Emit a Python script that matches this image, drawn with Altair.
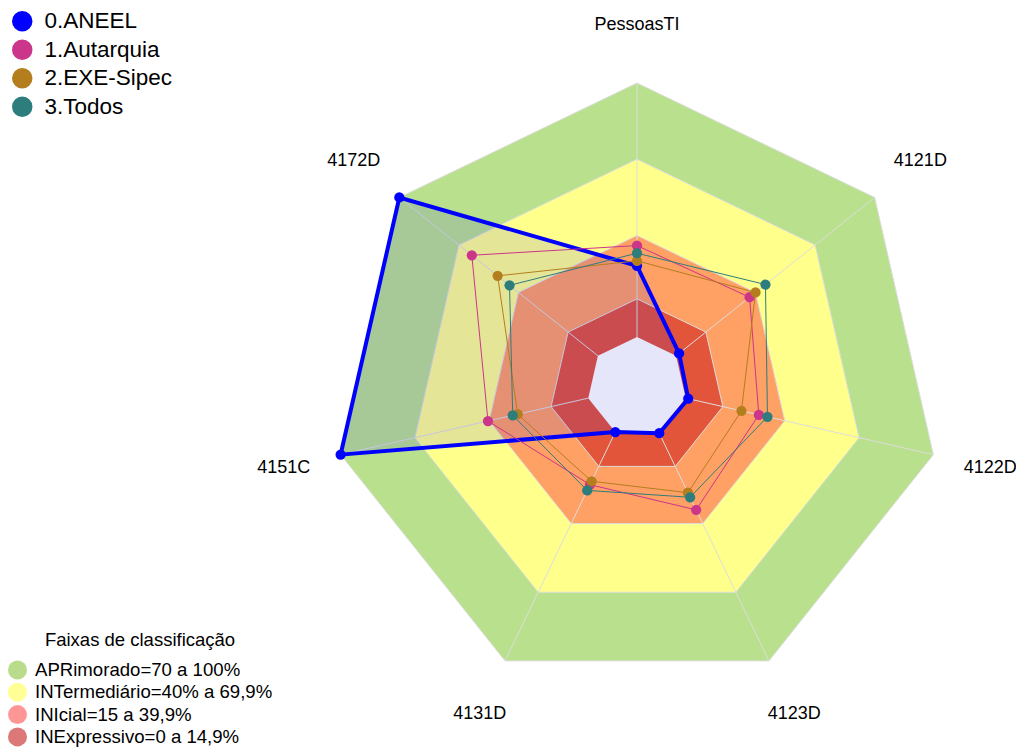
import altair as alt
import pandas as pd

# ---------------- data ----------------
categories = ["PessoasTI", "4121D", "4122D", "4123D", "4131D", "4151C", "4172D"]
series_names = ["0.ANEEL", "1.Autarquia", "2.EXE-Sipec", "3.Todos"]
aneel = [28, 1.5, 1, 0.5, 0, 100, 100]
autarquia = [36, 37, 29.5, 34, 23, 40.5, 63.5]
exe_sipec = [30, 40, 22.5, 26.5, 21.5, 28.5, 50.5]
todos = [33, 45, 33, 28.5, 25.5, 30.5, 44.5]

band_names = ["APRimorado=70 a 100%", "INTermediário=40% a 69,9%",
              "INIcial=15 a 39,9%", "INExpressivo=0 a 14,9%"]
band_upper = [100, 70, 40, 15]

# ---------------- styles ----------------
series_colors = ["#0000FF", "#CB358A", "#B47E1E", "#2E7D7D"]
series_widths = [4, 1, 1, 1]
band_colors = ["#B9E08C", "#FFFF8C", "#FFA064", "#E2553A"]
band_legend_colors = ["#B9DC8C", "#FFFF96", "#FF9696", "#DC7878"]
hole_color = "#E6E6FA"
grid_color = "#DDDDDD"
FONT = "Liberation Sans"

# ---------------- layout ----------------
W, H = 1008, 740
PX = 304.0             # pixels per unit radius (value 100)
CX, CY = 629.0, 379.0  # centre of radar in chart pixels
HOLE = 50.0 / PX       # inner hole radius fraction
LABEL_VALUE = 123      # radial value where category labels sit
N = len(categories)

xs = alt.Scale(domain=[-CX / PX, (W - CX) / PX], nice=False, zero=False)
ys = alt.Scale(domain=[-(H - CY) / PX, CY / PX], nice=False, zero=False)
X = alt.X("x:Q", scale=xs, axis=None)
Y = alt.Y("y:Q", scale=ys, axis=None)


def polar(ch):
    return ch.transform_calculate(
        theta=f"datum.idx * 2 * PI / {N}",
        rho=f"{HOLE} + (1 - {HOLE}) * datum.value / 100",
        x="datum.rho * sin(datum.theta)",
        y="datum.rho * cos(datum.theta)",
    )


# series table
rows = []
for name, vals in zip(series_names, [aneel, autarquia, exe_sipec, todos]):
    for i, (c, v) in enumerate(zip(categories, vals)):
        rows.append({"series": name, "cat": c, "idx": i, "value": v})
series_df = pd.DataFrame(rows)

# band table
brows = []
for b, up in zip(band_names + ["hole"], band_upper + [0]):
    for i in range(N):
        brows.append({"band": b, "idx": i, "value": up})
band_df = pd.DataFrame(brows)

cat_df = pd.DataFrame({"cat": categories, "idx": list(range(N))})

layers = []

# dummy layer carrying the band legend (hidden beneath the bands)
legend_layer = polar(alt.Chart(pd.DataFrame({"band": band_names, "idx": 0, "value": 0}))).mark_circle(
    opacity=1, size=10
).encode(
    x=X, y=Y,
    fill=alt.Fill("band:N", scale=alt.Scale(domain=band_names, range=band_legend_colors),
                  legend=alt.Legend(title="Faixas de classificação", orient="none",
                                    legendX=0, legendY=623, titleFontSize=18.5,
                                    titleFontWeight="normal", titleAnchor="middle",
                                    titleFont=FONT, labelFont=FONT, titleColor="black",
                                    labelColor="black", labelFontSize=18.6, symbolSize=361,
                                    symbolType="circle", symbolStrokeWidth=0, rowPadding=2.3,
                                    labelOffset=8, padding=0, titlePadding=11,
                                    symbolOpacity=1, labelLimit=0, titleLimit=0)),
)
layers.append(legend_layer)

# bands (largest first)
for b, col in zip(band_names, band_colors):
    layers.append(
        polar(alt.Chart(band_df).transform_filter(alt.datum.band == b))
        .mark_line(interpolate="linear-closed", fill=col, stroke=grid_color, strokeWidth=1)
        .encode(x=X, y=Y, order="idx:Q")
    )

# spokes
spokes = alt.Chart(cat_df).transform_calculate(
    theta=f"datum.idx * 2 * PI / {N}",
    x=f"{HOLE} * sin(datum.theta)",
    y=f"{HOLE} * cos(datum.theta)",
    x2="sin(datum.theta)",
    y2="cos(datum.theta)",
).mark_rule(color=grid_color, strokeWidth=1).encode(x=X, y=Y, x2="x2:Q", y2="y2:Q")
layers.append(spokes)

# ANEEL translucent fill
layers.append(
    polar(alt.Chart(series_df).transform_filter(alt.datum.series == series_names[0]))
    .mark_line(interpolate="linear-closed", fill=series_colors[0], fillOpacity=0.1, strokeWidth=0)
    .encode(x=X, y=Y, order="idx:Q")
)

# hole (covers the centre, above the ANEEL fill)
layers.append(
    polar(alt.Chart(band_df).transform_filter(alt.datum.band == "hole"))
    .mark_line(interpolate="linear-closed", fill=hole_color, strokeWidth=0)
    .encode(x=X, y=Y, order="idx:Q")
)

# series outlines
for name, col, w in zip(series_names, series_colors, series_widths):
    layers.append(
        polar(alt.Chart(series_df).transform_filter(alt.datum.series == name))
        .mark_line(interpolate="linear-closed", stroke=col, strokeWidth=w)
        .encode(x=X, y=Y, order="idx:Q")
    )

# markers
layers.append(
    polar(alt.Chart(series_df)).mark_circle(size=105, opacity=1)
    .encode(
        x=X, y=Y,
        color=alt.Color("series:N", scale=alt.Scale(domain=series_names, range=series_colors),
                        legend=alt.Legend(title=None, orient="none", legendX=3, legendY=2,
                                          labelFontSize=22.5, labelFont=FONT, labelColor="black",
                                          symbolSize=420, symbolType="circle",
                                          symbolStrokeWidth=0, labelOffset=11, rowPadding=5.5,
                                          padding=0, symbolOpacity=1, labelLimit=0)),
    )
)
# category labels
layers.append(
    polar(alt.Chart(cat_df).transform_calculate(value=f"{LABEL_VALUE}"))
    .mark_text(font=FONT, fontSize=18, color="black", align="center", baseline="middle")
    .encode(x=X, y=Y, text="cat:N")
)

chart = alt.layer(*layers).properties(
    width=W, height=H, padding=0, autosize=alt.AutoSizeParams(type="none"), background="white"
).configure_view(stroke=None)

chart.save("out.html", embed_options={"renderer": "svg", "actions": False})
